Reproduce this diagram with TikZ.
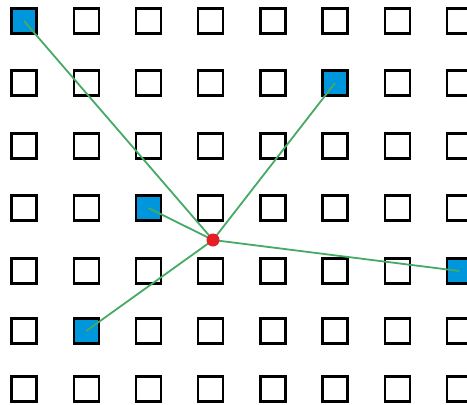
\documentclass[tikz,border=0pt]{standalone}
\usepackage{tikz}
\usetikzlibrary{positioning, calc}
\definecolor{gdblue}{RGB}{0,150,219}
\definecolor{gdgreen}{RGB}{70,170,100}
\definecolor{gdred}{RGB}{230,30,35}

\begin{document}
\begin{tikzpicture}[x=1pt, y=-1pt,
  cell/.style={draw=black, line width=2.4pt, minimum size=25pt,
    inner sep=0pt, fill=white},
  picked/.style={cell, fill=gdblue},
  link/.style={gdgreen, line width=1.8pt},
  query/.style={circle, fill=gdred, minimum size=13pt, inner sep=0pt}]
% frame
\useasboundingbox (0,0) rectangle (467,405);
\fill[white] (0,0) rectangle (467,405);

% ---- grid of cells ----
\foreach \c in {1,...,8}{
  \foreach \r/\y in {1/21, 2/83, 3/146, 4/208, 5/271, 6/331, 7/389}{
    \node[cell] (c-\c-\r) at ({24+62.2*(\c-1)},\y) {};
  }
}
% chosen cells
\foreach \c/\r in {1/1, 6/2, 3/4, 8/5, 2/6}{
  \node[picked] at (c-\c-\r) {};
}

% ---- query point and links ----
\coordinate (q) at (213,240);
\foreach \c/\r in {1/1, 6/2, 3/4, 8/5, 2/6}{
  \draw[link] (c-\c-\r.center) -- (q);
}
\node[query] (dot) at (q) {};
\end{tikzpicture}
\end{document}
